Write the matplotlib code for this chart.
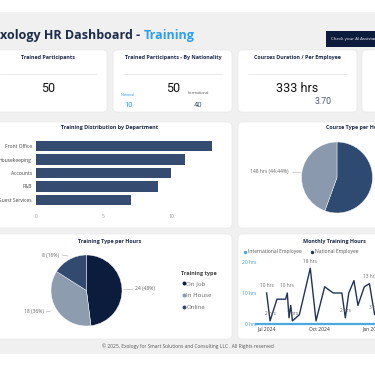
import matplotlib
matplotlib.use('Agg')
import matplotlib.pyplot as plt
import matplotlib.dates as mdates
from matplotlib.patches import FancyBboxPatch, Rectangle
from matplotlib.ticker import FuncFormatter
import datetime as dt

plt.rcParams['font.family'] = ['Open Sans', 'DejaVu Sans']

# --- dane ---
departments = ['Front Office', 'Housekeeping', 'Accounts', 'F&B', 'Guest Services']
dept_counts = [13, 11, 10, 9, 7]

course_hours = [185, 148]

training_types = ['On Job', 'In House', 'Online']
training_hours = [24, 18, 8]

nat_dates = ['2024-07-01', '2024-07-07', '2024-07-19', '2024-08-03', '2024-08-06',
             '2024-08-09', '2024-08-12', '2024-08-15', '2024-08-27', '2024-09-15',
             '2024-09-25', '2024-10-10', '2024-10-25', '2024-11-09', '2024-11-15',
             '2024-11-21', '2024-11-30', '2024-12-07', '2024-12-18', '2024-12-27',
             '2025-01-05', '2025-01-11', '2025-01-20', '2025-01-28']
nat_hours = [10, 1, 8, 8, 10, 2, 6, 1, 3, 18, 1, 12, 10, 10, 2, 10, 14, 6, 12, 13, 3, 3, 8, 5]
nat_labels = {0: '10 hrs', 1: '2 hrs', 4: '10 hrs', 7: '1 hrs', 9: '18 hrs', 14: '2 hrs', 19: '13 hrs', 20: '3 hrs'}

intl_dates = ['2024-06-12', '2024-07-01', '2024-10-01', '2025-01-28']
intl_hours = [0, 0, 0, 0]

W, H = 375, 366
fig = plt.figure(figsize=(W / 100, H / 100), dpi=100)

def box(x, y, w, h):
    # pozycja osi w pikselach -> ulamki figury
    return [x / W, 1 - (y + h) / H, w / W, h / H]

# tlo w ukladzie pikseli
bg = fig.add_axes([0, 0, 1, 1])
bg.set_xlim(0, W)
bg.set_ylim(H, 0)
bg.axis('off')
bg.add_patch(Rectangle((0, 12), W, 342, color='#f0f0f0', lw=0))

cards = [(-12, 50, 119, 62), (113, 50, 119, 62), (238, 50, 119, 62), (362, 50, 30, 62),
         (-12, 122, 244, 106), (238, 122, 150, 106),
         (-12, 234, 244, 105), (238, 234, 150, 105)]
for (x, y, w, h) in cards:
    bg.add_patch(FancyBboxPatch((x, y), w, h, boxstyle='round,pad=0,rounding_size=4',
                                fc='white', ec='#e4e4e4', lw=0.4))

navy = '#1c2b4b'
t = bg.text(-7, 38.5, 'Exology HR Dashboard - ', fontsize=9, fontweight='bold', color=navy, va='baseline')
bg.annotate('Training', xy=(1, 0), xycoords=t, va='bottom', fontsize=9, fontweight='bold', color='#2a9df4')
bg.add_patch(Rectangle((326, 31), 60, 16, color='#0d1b3d', lw=0))
bg.text(331, 39, 'Check your AI Assistant', fontsize=3.2, color='white', va='center')

# karty KPI
bg.text(48, 57, 'Trained Participants', fontsize=3.9, fontweight='bold', color=navy, ha='center', va='center')
bg.plot([0, 96], [74, 74], color='#e2e2e2', lw=0.5)
bg.text(48, 88, '50', fontsize=9, family='Roboto', color='#111111', ha='center', va='center')

bg.text(173, 57, 'Trained Participants - By Nationality', fontsize=3.9, fontweight='bold', color=navy, ha='center', va='center')
bg.plot([123, 222], [74, 74], color='#e2e2e2', lw=0.5)
bg.text(173, 88, '50', fontsize=9, family='Roboto', color='#111111', ha='center', va='center')
bg.text(128, 94.5, 'National', fontsize=2.6, color='#2a9df4', ha='center', va='center')
bg.text(129, 105, '10', fontsize=5.5, family='Roboto', color='#2a9df4', ha='center', va='center')
bg.text(198, 93, 'International', fontsize=2.6, color='#555555', ha='center', va='center')
bg.text(198, 105, '40', fontsize=5.5, family='Roboto', color='#44546e', ha='center', va='center')

bg.text(297, 57, 'Courses Duration / Per Employee', fontsize=3.9, fontweight='bold', color=navy, ha='center', va='center')
bg.plot([248, 347], [74, 74], color='#e2e2e2', lw=0.5)
bg.text(297.5, 88, '333 hrs', fontsize=9, family='Roboto', color='#111111', ha='center', va='center')
bg.text(323, 102, '3.70', fontsize=6.3, family='Roboto', color='#4a5a78', ha='center', va='center')

# wykres slupkowy - dzialy
bg.text(110, 127.5, 'Training Distribution by Department', fontsize=3.9, fontweight='bold', color=navy, ha='center', va='center')
ax = fig.add_axes(box(36, 138, 189, 70))
ax.barh(range(len(departments)), dept_counts, height=0.75, color='#354b70')
ax.set_ylim(len(departments) - 0.4, -0.6)
ax.set_xlim(0, 14)
ax.set_yticks(range(len(departments)))
ax.set_yticklabels(departments)
ax.set_xticks([0, 5, 10])
ax.tick_params(axis='y', length=0, pad=3, labelsize=3.6, labelcolor='#444444')
ax.tick_params(axis='x', length=0, pad=4, labelsize=3.6, labelcolor='#999999')
for s in ax.spines.values():
    s.set_visible(False)
ax.set_facecolor('none')

# kolowy - typ kursu
bg.text(326, 128, 'Course Type per Hours', fontsize=3.9, fontweight='bold', color=navy, va='center')
ax = fig.add_axes(box(301.5, 142, 71, 71))
ax.pie(course_hours, colors=['#2f4a71', '#8a99ad'], startangle=90, counterclock=False,
       wedgeprops=dict(ec='white', lw=0.3))
ax.set_xlim(-1, 1)
ax.set_ylim(-1, 1)
bg.text(269, 172, '148 hrs (44.44%)', fontsize=3.6, color='#666666', ha='center', va='center')
bg.plot([292, 300], [172, 172], color='#aaaaaa', lw=0.4)

# kolowy - typ szkolenia
bg.text(110, 241, 'Training Type per Hours', fontsize=3.9, fontweight='bold', color=navy, ha='center', va='center')
ax = fig.add_axes(box(51, 255, 71, 71))
tcol = ['#0c1c3d', '#8e9cb0', '#324a70']
ax.pie(training_hours, colors=tcol, startangle=90, counterclock=False,
       wedgeprops=dict(ec='white', lw=0.3))
ax.set_xlim(-1, 1)
ax.set_ylim(-1, 1)
bg.text(145, 288.5, '24 (48%)', fontsize=3.6, color='#666666', ha='center', va='center')
bg.plot([123, 132], [288.5, 288.5], color='#aaaaaa', lw=0.4)
bg.text(34, 312, '18 (36%)', fontsize=3.6, color='#666666', ha='center', va='center')
bg.plot([46, 51], [312, 311], color='#aaaaaa', lw=0.4)
bg.text(50, 255, '8 (16%)', fontsize=3.6, color='#666666', ha='center', va='center')
bg.plot([62, 68], [255, 256], color='#aaaaaa', lw=0.4)
bg.text(181, 273, 'Training type', fontsize=4, fontweight='bold', color='#444444', va='center')
for i, tt in enumerate(training_types):
    yy = 283.3 + 12 * i
    bg.scatter([183.5], [yy], s=8, color=tcol[i], lw=0)
    bg.text(186.5, yy, tt, fontsize=4.4, color='#666666', va='center')

# liniowy - godziny miesiecznie
bg.text(303, 241, 'Monthly Training Hours', fontsize=3.9, fontweight='bold', color=navy, va='center')
bg.scatter([244.5], [252], s=6, color='#4aa8e0', lw=0)
bg.text(248, 252, 'International Employee', fontsize=3.6, color='#555555', va='center')
bg.scatter([311.5], [252], s=6, color='#1f3358', lw=0)
bg.text(315, 252, 'National Employee', fontsize=3.6, color='#555555', va='center')

ax = fig.add_axes(box(258, 262, 162, 62))
nd = [dt.datetime.strptime(d, '%Y-%m-%d') for d in nat_dates]
idt = [dt.datetime.strptime(d, '%Y-%m-%d') for d in intl_dates]
ax.plot(idt, intl_hours, color='#4aa8e0', lw=1.6, clip_on=False)
ax.plot(nd, nat_hours, color='#1f3358', lw=1)
for i, txt in nat_labels.items():
    ax.annotate(txt, (nd[i], nat_hours[i]), xytext=(0, 4), textcoords='offset points',
                ha='center', fontsize=3.4, color='#666666')
start = dt.datetime(2024, 7, 1)
ax.set_xlim(start - dt.timedelta(days=15), start + dt.timedelta(days=267))
ax.set_ylim(0, 20)
ax.set_yticks([0, 10, 20])
ax.yaxis.set_major_formatter(FuncFormatter(lambda v, p: '%d hrs' % v))
ax.xaxis.set_major_locator(mdates.MonthLocator(bymonth=[1, 4, 7, 10]))
ax.xaxis.set_major_formatter(mdates.DateFormatter('%b %Y'))
ax.tick_params(axis='y', length=0, pad=1, labelsize=3.6, labelcolor='#3a9ad9')
ax.tick_params(axis='x', length=0, pad=2, labelsize=3.6, labelcolor='#333333')
for s in ax.spines.values():
    s.set_visible(False)
ax.set_facecolor('none')

bg.text(188, 346, '\u00a9 2025, Exology for Smart Solutions and Consulting LLC . All Rights reserved',
        fontsize=3.5, color='#555555', ha='center', va='center')

fig.savefig('out.png', dpi=100)
